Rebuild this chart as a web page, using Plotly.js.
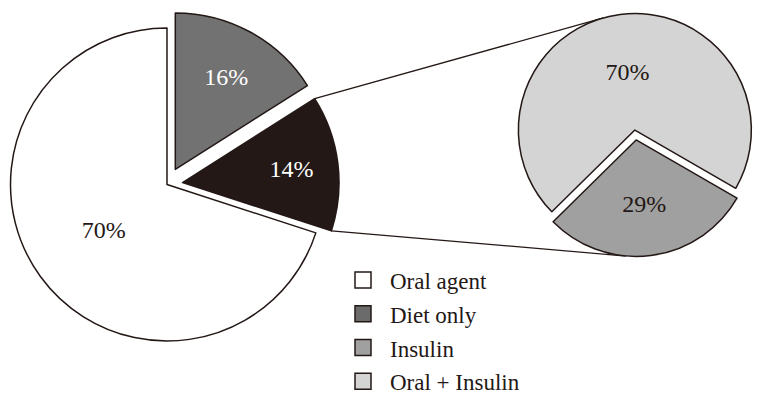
<!DOCTYPE html>
<html>
<head>
<title>Treatment pie</title>
<script src="https://cdn.plot.ly/plotly-3.0.1.min.js"></script>
<style>
	body {
		margin: 0;
		overflow: hidden;
		background-color: white;
	}
	#chart {
		margin-left: -20px;
	}
</style>
</head>
<body>
<div id="chart"></div>
<script>
	// main pie (whole cohort)
	var mainLabels = ['Diet only', 'Insulin users', 'Oral agent'];
	var mainValues = [16, 14, 70];
	var mainColors = ['#727272', '#231815', '#ffffff'];
	var mainTextColors = ['#ffffff', '#ffffff', '#231815'];
	var mainPull = [0.11, 0.1, 0];

	// breakdown of the insulin slice
	var subLabels = ['Insulin', 'Oral + Insulin'];
	var subValues = [29, 70];
	var subColors = ['#a0a0a0', '#d4d4d4'];
	var subPull = [0.043, 0.043];
	var subRotation = 120;

	var legendLabels = ['Oral agent', 'Diet only', 'Insulin', 'Oral + Insulin'];
	var legendColors = ['#ffffff', '#6b6b6b', '#a0a0a0', '#d4d4d4'];

	var W = 783, H = 411, OFF = 20;
	var ink = '#231815';
	var font = 'Liberation Serif, Times New Roman, serif';

	var main = {cx: 167, cy: 184.5, r: 156.5};
	var sub = {cx: 635.5, cy: 135, r: 116.5};

	function pieDomain(p, pulls) {
		var half = p.r * (1 + Math.max.apply(null, pulls));
		return {
			x: [(p.cx + OFF - half) / W, (p.cx + OFF + half) / W],
			y: [1 - (p.cy + half) / H, 1 - (p.cy - half) / H]
		};
	}

	function sliceAngles(values, i, rotation) {
		var total = values.reduce(function (a, b) { return a + b; }, 0);
		var before = 0;
		for (var k = 0; k < i; k++) before += values[k];
		var a0 = rotation * Math.PI / 180 + before / total * 2 * Math.PI;
		var a1 = a0 + values[i] / total * 2 * Math.PI;
		return [a0, a1, (a0 + a1) / 2];
	}

	function pulledCenter(p, values, pulls, i, rotation) {
		var mid = sliceAngles(values, i, rotation)[2];
		return {x: p.cx + pulls[i] * p.r * Math.sin(mid), y: p.cy - pulls[i] * p.r * Math.cos(mid)};
	}

	function tangent(P, C, r, wantTop) {
		var dx = P.x - C.x, dy = P.y - C.y;
		var d = Math.sqrt(dx * dx + dy * dy);
		var th = Math.atan2(dy, dx), al = Math.acos(r / d);
		var t1 = {x: C.x + r * Math.cos(th + al), y: C.y + r * Math.sin(th + al)};
		var t2 = {x: C.x + r * Math.cos(th - al), y: C.y + r * Math.sin(th - al)};
		if (wantTop) return t1.y < t2.y ? t1 : t2;
		return t1.y > t2.y ? t1 : t2;
	}

	// connector lines from the insulin slice to the breakdown pie
	var ang = sliceAngles(mainValues, 1, 0);
	var pc = pulledCenter(main, mainValues, mainPull, 1, 0);
	var pTop = {x: pc.x + main.r * Math.sin(ang[0]), y: pc.y - main.r * Math.cos(ang[0])};
	var pBot = {x: pc.x + main.r * Math.sin(ang[1]), y: pc.y - main.r * Math.cos(ang[1])};
	var cTop = pulledCenter(sub, subValues, subPull, 1, subRotation);
	var cBot = pulledCenter(sub, subValues, subPull, 0, subRotation);
	var tTop = tangent(pTop, cTop, sub.r, true);
	var tBot = tangent(pBot, cBot, sub.r, false);

	function connector(a, b) {
		return {
			type: 'line', xref: 'paper', yref: 'paper', layer: 'below',
			x0: (a.x + OFF) / W, y0: 1 - a.y / H, x1: (b.x + OFF) / W, y1: 1 - b.y / H,
			line: {color: ink, width: 1.3}
		};
	}

	var data = [
		{
			type: 'pie',
			labels: mainLabels,
			values: mainValues,
			sort: false,
			direction: 'clockwise',
			rotation: 0,
			pull: mainPull,
			domain: pieDomain(main, mainPull),
			marker: {colors: mainColors, line: {color: ink, width: 1.5}},
			texttemplate: '%{value}%',
			textposition: 'inside',
			insidetextorientation: 'horizontal',
			textfont: {family: font, size: 24, color: mainTextColors},
			showlegend: false,
			hoverinfo: 'label+value'
		},
		{
			type: 'pie',
			labels: subLabels,
			values: subValues,
			sort: false,
			direction: 'clockwise',
			rotation: subRotation,
			pull: subPull,
			domain: pieDomain(sub, subPull),
			marker: {colors: subColors, line: {color: ink, width: 1.5}},
			texttemplate: '%{value}%',
			textposition: 'inside',
			insidetextorientation: 'horizontal',
			textfont: {family: font, size: 24, color: ink},
			showlegend: false,
			hoverinfo: 'label+value'
		}
	];

	// legend entries
	for (var i = 0; i < legendLabels.length; i++) {
		data.push({
			type: 'scatter',
			mode: 'markers',
			x: [null],
			y: [null],
			name: legendLabels[i],
			legendgroup: 'g' + i,
			marker: {symbol: 'square', size: 16, color: legendColors[i], line: {color: ink, width: 1.5}},
			hoverinfo: 'skip'
		});
	}

	var layout = {
		width: W,
		height: H,
		margin: {l: 0, r: 0, t: 0, b: 0},
		paper_bgcolor: 'white',
		plot_bgcolor: 'rgba(0,0,0,0)',
		xaxis: {visible: false},
		yaxis: {visible: false},
		showlegend: true,
		legend: {
			x: (336 + OFF) / W,
			y: 1 - 258.5 / H,
			xanchor: 'left',
			yanchor: 'top',
			itemwidth: 44,
			tracegroupgap: 0.9,
			bgcolor: 'rgba(0,0,0,0)',
			font: {family: font, size: 23, color: ink}
		},
		shapes: [connector(pTop, tTop), connector(pBot, tBot)]
	};

	Plotly.newPlot('chart', data, layout, {displayModeBar: false});
</script>
</body>
</html>
